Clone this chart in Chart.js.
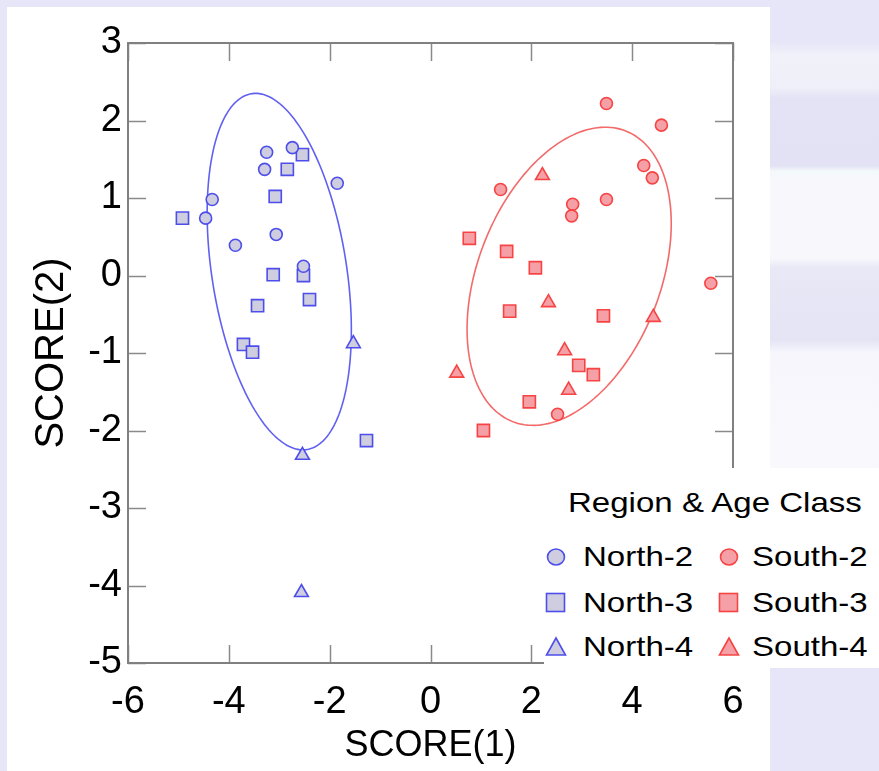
<!DOCTYPE html>
<html>
<head>
<meta charset="utf-8">
<script src="https://cdn.jsdelivr.net/npm/chart.js@4/dist/chart.umd.min.js"></script>
<style>
    html, body { margin: 0; padding: 0; }
    body {
        width: 879px; height: 771px; overflow: hidden; position: relative;
        background: #e6e6f8;
        font-family: "Liberation Sans", Arial, sans-serif;
    }
    #photo {
        position: absolute; left: 770px; top: 0; width: 109px; height: 771px;
        background: linear-gradient(to bottom,
            #e6e6f8 0px, #e6e6f8 42px, #f1f1fa 55px, #efeff9 88px, #e3e3f5 98px,
            #e2e2f4 166px, #f3f9fa 171px, #f8f8fc 180px, #f8f8fc 258px, #e8e8f6 268px,
            #e4e4f5 340px, #f6f6fc 352px, #f9f9fd 470px, #e6e6f8 668px, #e6e6f8 771px);
    }
    #panel {
        position: absolute; left: 7px; top: 7px; width: 763px; height: 764px;
        background: #ffffff;
    }
    #legend {
        position: absolute; left: 544px; top: 468px; width: 335px; height: 200px;
        background: #ffffff;
    }
    #legend .title {
        position: absolute;
        font-size: 28px; line-height: 36px; color: #000;
        transform: scaleX(1.18); transform-origin: 0 50%; white-space: nowrap;
    }
    #legend .item { position: absolute; height: 36px; }
    #legend .item svg { position: absolute; }
    #legend .item span {
        position: absolute; font-size: 28px; line-height: 36px; color: #000;
        transform: scaleX(1.18); transform-origin: 0 50%; white-space: nowrap;
    }
</style>
</head>
<body>
<div id="photo"></div>
<div id="panel"><canvas id="chart" width="763" height="764"></canvas></div>
<div id="legend"></div>

<script>
(() => {
    'use strict';

    // --- data ---
    const north2X = [-3.25, -2.74, -3.29, -1.85, -4.33, -4.46, -3.87, -3.06, -2.52];
    const north2Y = [1.59, 1.65, 1.37, 1.19, 0.98, 0.74, 0.39, 0.53, 0.12];

    const north3X = [-2.54, -2.84, -3.08, -4.92, -3.12, -2.52, -2.40, -3.43, -3.71, -3.53, -1.27];
    const north3Y = [1.56, 1.37, 1.02, 0.74, 0.01, 0.0, -0.31, -0.39, -0.89, -0.99, -2.13];

    const north4X = [-1.53, -2.54, -2.56];
    const north4Y = [-0.88, -2.32, -4.09];

    const south2X = [3.49, 4.58, 4.23, 4.40, 1.39, 2.82, 2.80, 3.49, 5.56, 2.52];
    const south2Y = [2.22, 1.94, 1.42, 1.26, 1.11, 0.92, 0.77, 0.98, -0.10, -1.79];

    const south3X = [0.77, 1.51, 2.08, 1.57, 3.43, 2.94, 3.23, 1.96, 1.05];
    const south3Y = [0.48, 0.31, 0.10, -0.46, -0.52, -1.16, -1.28, -1.63, -2.00];

    const south4X = [2.22, 2.34, 4.42, 2.66, 0.52, 2.74];
    const south4Y = [1.29, -0.35, -0.54, -0.97, -1.26, -1.48];

    // ellipse: centre x, centre y, var x, var y, cov xy
    const northEllipse = [-3.0, 0.05, 2.045, 5.29, -1.08];
    const southEllipse = [2.75, -0.01, 4.10, 3.70, 1.38];

    const xTicks = [-6, -4, -2, 0, 2, 4, 6];
    const yTicks = [-5, -4, -3, -2, -1, 0, 1, 2, 3];

    const FONT = '"Liberation Sans", Arial, sans-serif';
    const BLUE = 'rgba(70, 70, 235, 0.95)';
    const BLUE_FILL = 'rgba(206, 206, 224, 1)';
    const RED = 'rgba(245, 60, 60, 0.95)';
    const RED_FILL = 'rgba(245, 160, 166, 1)';

    const pts = (xs, ys) => xs.map((x, i) => ({x: x, y: ys[i]}));

    const group = (label, xs, ys, style, radius, stroke, fill) => ({
        label: label,
        data: pts(xs, ys),
        pointStyle: style,
        pointRadius: radius,
        pointBorderWidth: 1.6,
        borderColor: stroke,
        backgroundColor: fill,
        pointBorderColor: stroke,
        pointBackgroundColor: fill
    });

    const datasets = [
        group('North-2', north2X, north2Y, 'circle', 6, BLUE, BLUE_FILL),
        group('South-2', south2X, south2Y, 'circle', 6, RED, RED_FILL),
        group('North-3', north3X, north3Y, 'rect', 8.6, BLUE, BLUE_FILL),
        group('South-3', south3X, south3Y, 'rect', 8.6, RED, RED_FILL),
        group('North-4', north4X, north4Y, 'triangle', 8, BLUE, BLUE_FILL),
        group('South-4', south4X, south4Y, 'triangle', 8, RED, RED_FILL)
    ];

    // ellipses under the points
    const ellipses = {
        id: 'ellipses',
        beforeDatasetsDraw(chart) {
            const xs = chart.scales.x, ys = chart.scales.y, ctx = chart.ctx;
            [[northEllipse, 'rgba(80, 80, 240, 0.9)'], [southEllipse, 'rgba(242, 90, 90, 0.9)']].forEach(([e, color]) => {
                const a = Math.sqrt(e[2]);
                const b = e[4] / a;
                const c = Math.sqrt(e[3] - b * b);
                ctx.save();
                ctx.beginPath();
                for (let i = 0; i <= 180; i++) {
                    const t = i / 180 * Math.PI * 2;
                    const px = xs.getPixelForValue(e[0] + a * Math.cos(t));
                    const py = ys.getPixelForValue(e[1] + b * Math.cos(t) + c * Math.sin(t));
                    if (i === 0) ctx.moveTo(px, py); else ctx.lineTo(px, py);
                }
                ctx.strokeStyle = color;
                ctx.lineWidth = 1.6;
                ctx.stroke();
                ctx.restore();
            });
        }
    };

    // box with inward ticks on all four sides
    const frame = {
        id: 'frame',
        afterDraw(chart) {
            const {left, right, top, bottom} = chart.chartArea;
            const xs = chart.scales.x, ys = chart.scales.y, ctx = chart.ctx;
            const len = 18;
            ctx.save();
            ctx.strokeStyle = '#8a8a8a';
            ctx.lineWidth = 1.5;
            ctx.beginPath();
            xTicks.forEach(v => {
                const px = Math.round(xs.getPixelForValue(v)) + 0.5;
                ctx.moveTo(px, bottom); ctx.lineTo(px, bottom - len);
                ctx.moveTo(px, top); ctx.lineTo(px, top + len);
            });
            yTicks.forEach(v => {
                const py = Math.round(ys.getPixelForValue(v)) + 0.5;
                ctx.moveTo(left, py); ctx.lineTo(left + len, py);
                ctx.moveTo(right, py); ctx.lineTo(right - len, py);
            });
            ctx.stroke();
            ctx.lineWidth = 2;
            ctx.strokeStyle = '#808080';
            ctx.strokeRect(left, top, right - left, bottom - top);
            ctx.restore();
        }
    };

    new Chart(document.getElementById('chart').getContext('2d'), {
        type: 'scatter',
        data: {datasets: datasets},
        options: {
            responsive: false,
            animation: false,
            layout: {padding: {top: 36, right: 37, left: 0, bottom: 0}},
            plugins: {legend: {display: false}, tooltip: {enabled: false}},
            scales: {
                x: {
                    type: 'linear', min: -6, max: 6,
                    afterBuildTicks: (s) => { s.ticks = xTicks.map(v => ({value: v})); },
                    afterFit: (s) => { s.height = 108; },
                    grid: {display: false, drawTicks: false},
                    border: {display: false},
                    ticks: {
                        color: '#000', padding: 17, autoSkip: false, maxRotation: 0,
                        font: {family: FONT, size: 38}
                    },
                    title: {
                        display: true, text: 'SCORE(1)', color: '#000',
                        font: {family: FONT, size: 36}, padding: {top: 0, bottom: 3}
                    }
                },
                y: {
                    type: 'linear', min: -5, max: 3,
                    afterBuildTicks: (s) => { s.ticks = yTicks.map(v => ({value: v})); },
                    afterFit: (s) => { s.width = 121; },
                    grid: {display: false, drawTicks: false},
                    border: {display: false},
                    ticks: {
                        color: '#000', padding: 6, autoSkip: false,
                        font: {family: FONT, size: 38}
                    },
                    title: {
                        display: true, text: 'SCORE(2)', color: '#000',
                        font: {family: FONT, size: 40}, padding: {top: 21, bottom: 0}
                    }
                }
            }
        },
        plugins: [ellipses, frame]
    });

    // legend box, built from the datasets
    const legend = document.getElementById('legend');
    const title = document.createElement('div');
    title.className = 'title';
    title.textContent = 'Region & Age Class';
    title.style.left = (568 - 544) + 'px';
    title.style.top = (485 - 468) + 'px';
    legend.appendChild(title);

    const marker = (style, stroke, fill) => {
        if (style === 'circle') {
            return '<svg width="22" height="22"><ellipse cx="11" cy="11" rx="8.5" ry="8" fill="' + fill + '" stroke="' + stroke + '" stroke-width="1.6"/></svg>';
        }
        if (style === 'rect') {
            return '<svg width="22" height="22"><rect x="1.5" y="1.5" width="18" height="18" fill="' + fill + '" stroke="' + stroke + '" stroke-width="1.6"/></svg>';
        }
        return '<svg width="22" height="22"><polygon points="11,2 20.5,19 1.5,19" fill="' + fill + '" stroke="' + stroke + '" stroke-width="1.6"/></svg>';
    };

    const rowY = [557, 603, 647];
    const colMarkerX = [556, 729];
    const colTextX = [583, 752];
    datasets.forEach((ds, i) => {
        const col = i % 2, row = Math.floor(i / 2);
        const item = document.createElement('div');
        item.className = 'item';
        item.style.left = '0px';
        item.style.top = (rowY[row] - 468 - 18) + 'px';
        item.innerHTML = marker(ds.pointStyle, ds.pointBorderColor, ds.pointBackgroundColor);
        const svg = item.firstChild;
        svg.style.left = (colMarkerX[col] - 544 - 11) + 'px';
        svg.style.top = '7px';
        const span = document.createElement('span');
        span.textContent = ds.label;
        span.style.left = (colTextX[col] - 544) + 'px';
        span.style.top = '0px';
        item.appendChild(span);
        legend.appendChild(item);
    });
})();
</script>
</body>
</html>
